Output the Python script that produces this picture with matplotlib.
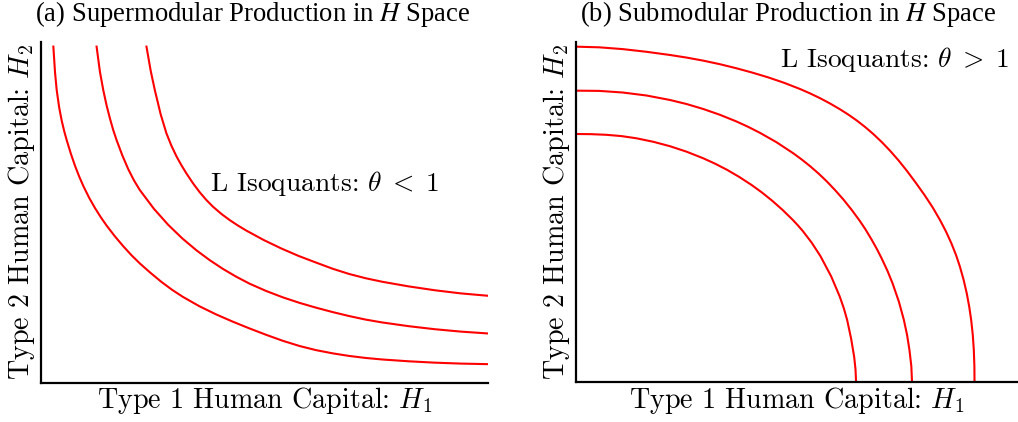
import numpy as np
import matplotlib
matplotlib.use('Agg')
import matplotlib.pyplot as plt

#Supermodular isoquants (left panel)
sup_low_x = [3.8, 4.3, 4.8, 5.55, 6.3, 7.05, 7.8, 9.05, 10.3, 11.55, 12.8, 14.55, 16.3,
             18.05, 19.8, 22.3, 24.8, 27.3, 29.8, 33.0, 36.25, 39.47, 42.7, 47.7, 52.75,
             57.8, 62.8, 67.8, 72.8, 77.8, 82.8, 87.8, 92.75, 97.7, 102.7, 110.6, 118.45,
             126.3, 134.5]
sup_low_y = [100.7, 93.0, 87.7, 82.45, 78.55, 75.4, 72.7, 68.64, 65.0, 61.79, 58.93, 55.41, 52.33,
             49.57, 47.06, 43.82, 40.88, 38.15, 35.7, 32.88, 30.2, 27.81, 25.7, 22.87, 20.41,
             18.22, 16.2, 14.29, 12.5, 10.95, 9.7, 8.74, 7.96, 7.36, 6.9, 6.36, 5.95,
             5.67, 5.5]

sup_mid_x = [16.8, 17.8, 18.8, 19.8, 20.8, 21.8, 22.8, 24.55, 26.3, 28.05, 29.8, 34.05,
             38.3, 42.55, 46.8, 50.8, 54.8, 58.8, 62.8, 67.8, 72.8, 77.8, 82.8, 87.8,
             92.75, 97.7, 102.7, 110.6, 118.45, 126.3, 134.5]
sup_mid_y = [100.7, 93.2, 87.7, 83.1, 79.2, 75.7, 72.7, 68.06, 64.0, 60.57, 57.7, 52.06,
             47.3, 43.22, 39.65, 36.69, 34.05, 31.71, 29.63, 27.43, 25.53, 23.88, 22.43, 21.11,
             19.92, 18.86, 18.0, 16.89, 15.98, 15.26, 14.7]

sup_high_x = [31.8, 33.05, 34.3, 36.05, 37.8, 39.3, 40.8, 42.3, 43.8, 45.8, 47.8, 49.8,
              51.8, 54.3, 56.8, 59.3, 61.8, 67.05, 72.3, 77.55, 82.8, 87.8, 92.75, 97.7,
              102.7, 110.6, 118.45, 126.3, 134.5]
sup_high_y = [100.7, 93.54, 87.7, 80.47, 74.7, 70.98, 67.84, 65.14, 62.7, 59.71, 57.05, 54.72,
              52.7, 50.56, 48.71, 47.06, 45.56, 42.72, 40.2, 37.94, 35.95, 34.1, 32.53, 31.26,
              30.2, 28.82, 27.66, 26.72, 26.0]

#Submodular isoquants (right panel)
sub_low_x = [0, 4.58, 9.15, 13.73, 18.3, 23.3, 28.3, 33.3, 38.3, 41.94, 45.45, 49.02, 52.78,
             55.91, 59.03, 62.14, 65.16, 66.62, 68.13, 70.78, 73.41, 76.65, 79.24, 80.45,
             81.45, 82.63, 83.56, 83.96, 84.13]
sub_low_y = [74.5, 74.45, 74.26, 73.87, 73.2, 72.16, 70.83, 69.18, 67.2, 65.54, 63.73, 61.65, 59.2,
             56.93, 54.42, 51.66, 48.7, 47.14, 45.4, 41.94, 37.9, 31.8, 25.7, 22.2,
             18.7, 13.15, 7.6, 3.8, 0]

sub_mid_x = [0, 7.08, 14.15, 21.23, 28.3, 33.3, 38.3, 43.3, 48.3, 51.8, 55.3, 60.3, 65.3,
             67.8, 70.3, 72.8, 75.3, 77.8, 80.3, 82.8, 85.3, 86.97, 88.71, 90.32, 91.79,
             93.54, 95.07, 96.97, 98.47, 99.43, 100.14, 100.7, 100.91]
sub_mid_y = [87.5, 87.43, 86.94, 86.05, 84.7, 83.48, 81.99, 80.25, 78.23, 76.62, 74.84, 72.0, 68.7,
             66.86, 64.87, 62.7, 60.32, 57.69, 54.87, 51.75, 48.35, 45.83, 42.95, 40.08, 37.2,
             33.45, 29.7, 24.2, 18.7, 14.2, 9.7, 4.85, 0]

sub_high_x = [0, 7.08, 14.15, 21.23, 28.3, 33.3, 38.3, 43.3, 48.3, 53.05, 57.8, 62.55, 67.3,
              70.3, 73.3, 76.3, 79.3, 81.8, 84.3, 86.8, 89.3, 91.8, 94.3, 96.8, 99.3,
              102.1, 104.72, 107.12, 109.3, 111.12, 112.72, 114.11, 115.28, 116.4, 117.33,
              118.07, 118.66, 119.14, 119.45, 119.62, 119.66]
sub_high_y = [100.7, 100.5, 99.96, 99.16, 98.2, 97.42, 96.5, 95.43, 94.2, 92.9, 91.47, 89.85, 88.0,
              86.69, 85.25, 83.66, 81.91, 80.32, 78.57, 76.63, 74.48, 72.11, 69.5, 66.65, 63.54,
              59.78, 56.1, 52.45, 48.7, 45.2, 41.7, 38.2, 34.7, 30.7, 26.7,
              22.7, 18.7, 14.2, 9.7, 4.85, 0]

titles = [r'(a) Supermodular Production in $H$ Space',
          r'(b) Submodular Production in $H$ Space']
notes = [r'L Isoquants: $\theta\;<\;1$', r'L Isoquants: $\theta\;>\;1$']

fig = plt.figure(figsize=(10.18, 4.22), dpi=100)
ax1 = fig.add_axes([0.040, 0.0936, 0.4394, 0.807])
ax2 = fig.add_axes([0.5655, 0.0940, 0.4335, 0.8065])
ax1.set_xlim(0, 134.5)
ax2.set_xlim(0, 132.4)

for ax in [ax1, ax2]:
    ax.set_ylim(0, 102.1)
    ax.set_xticks([])
    ax.set_yticks([])
    ax.spines['top'].set_visible(False)
    ax.spines['right'].set_visible(False)
    ax.spines['left'].set_linewidth(1.6)
    ax.spines['bottom'].set_linewidth(1.6)
    ax.set_xlabel(r'Type 1 Human Capital: $H_1$', family='cmr10',
                  math_fontfamily='cm', fontsize=20.2, labelpad=2)
    ax.set_ylabel(r'Type 2 Human Capital: $H_2$', family='cmr10',
                  math_fontfamily='cm', fontsize=20.2, labelpad=3)

ax1.plot(sup_low_x, sup_low_y, color='red', lw=1.5)
ax1.plot(sup_mid_x, sup_mid_y, color='red', lw=1.5)
ax1.plot(sup_high_x, sup_high_y, color='red', lw=1.5)

ax2.plot(sub_low_x, sub_low_y, color='red', lw=1.5)
ax2.plot(sub_mid_x, sub_mid_y, color='red', lw=1.5)
ax2.plot(sub_high_x, sub_high_y, color='red', lw=1.5)

ax1.text(85.3, 57.4, notes[0], family='cmr10', math_fontfamily='cm',
         fontsize=19.8, ha='center', va='baseline')
ax2.text(95.7, 94.7, notes[1], family='cmr10', math_fontfamily='cm',
         fontsize=19.8, ha='center', va='baseline')

fig.text(252.5 / 1018, 0.950, titles[0], family='Liberation Serif',
         math_fontfamily='stix', fontsize=19.2, ha='center', va='baseline')
fig.text(788 / 1018, 0.950, titles[1], family='Liberation Serif',
         math_fontfamily='stix', fontsize=19.2, ha='center', va='baseline')

fig.savefig('out.png', dpi=100)
